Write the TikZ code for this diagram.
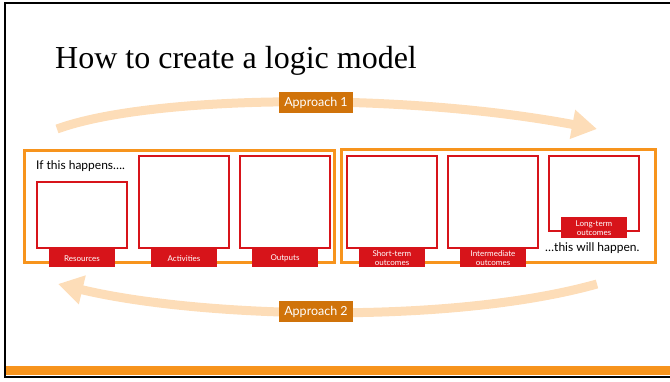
\documentclass[tikz,border=0pt]{standalone}
\usepackage{fontspec}
\setmainfont{Lato}
\newfontfamily\titlefont{Liberation Serif}
\usetikzlibrary{arrows.meta}

\definecolor{frameorange}{HTML}{F7941D}
\definecolor{swoosh}{HTML}{FDDDB8}
\definecolor{tagorange}{HTML}{D0730A}
\definecolor{boxred}{HTML}{D7141A}

\tikzset{
  group/.style={draw=frameorange, line width=2.5pt, inner sep=0pt, anchor=north west},
  stage/.style={draw=boxred, line width=2pt, fill=white, inner sep=0pt, minimum width=90pt, anchor=north west},
  tab/.style={fill=boxred, text=white, font=\fontsize{8}{9}\selectfont, align=center,
    inner sep=0pt, minimum width=66pt, minimum height=18pt, anchor=north},
  approach/.style={fill=tagorange, text=white, font=\fontsize{12.5}{14}\selectfont,
    inner sep=0pt, minimum width=74pt, minimum height=21pt},
  swooshline/.style={draw=swoosh, line width=9pt, -{Triangle[length=25pt,width=28pt]}},
  note/.style={font=\fontsize{12}{14}\selectfont, inner sep=0pt, anchor=base west}
}

\begin{document}
\begin{tikzpicture}[x=1pt, y=-1pt]
  \useasboundingbox (0,0) rectangle (670,381);

  % slide frame
  \fill[frameorange] (5,366) rectangle (670,375);
  \draw[line width=2pt] (5,3) rectangle (680,377);

  \node[anchor=base west, inner sep=0pt, font=\titlefont\fontsize{32}{36}\selectfont] (title) at (55,68) {How to create a logic model};

  % the two reading directions
  \coordinate (a1s) at (57,129);
  \coordinate (a1e) at (597,129);
  \coordinate (a2s) at (597,284);
  \coordinate (a2e) at (58,284);
  \draw[swooshline] (a1s) .. controls (150,95) and (400,92) .. (a1e);
  \draw[swooshline] (a2s) .. controls (450,325) and (200,318) .. (a2e);

  % groups
  \node[group, minimum width=310pt, minimum height=112pt] (cause) at (23,149) {};
  \node[group, minimum width=314pt, minimum height=113pt] (effect) at (340,148) {};

  % stages
  \node[stage, minimum height=66pt] (res) at (36,181) {};
  \node[stage, minimum height=92pt] (act) at (138,155) {};
  \node[stage, minimum height=92pt] (out) at (239,155) {};
  \node[stage, minimum height=92pt] (st) at (346,155) {};
  \node[stage, minimum height=92pt] (mt) at (447,155) {};
  \node[stage, minimum height=75pt] (lt) at (548,155) {};

  \node[tab] (resT) at (res.south) {Resources};
  \node[tab] (actT) at (act.south) {Activities};
  \node[tab] (outT) at (out.south) {Outputs};
  \node[tab] (stT) at (st.south) {Short-term\\outcomes};
  \node[tab] (mtT) at (mt.south) {Intermediate\\outcomes};
  \node[tab, minimum height=21pt, yshift=15pt] (ltT) at (lt.south) {Long-term\\outcomes};

  \node[note] (ifText) at (36,169.5) {If this happens….};
  \node[note] (thenText) at (545,251) {…this will happen.};

  \node[approach] (ap1) at (316,102.5) {Approach 1};
  \node[approach] (ap2) at (316,311.5) {Approach 2};
\end{tikzpicture}
\end{document}
